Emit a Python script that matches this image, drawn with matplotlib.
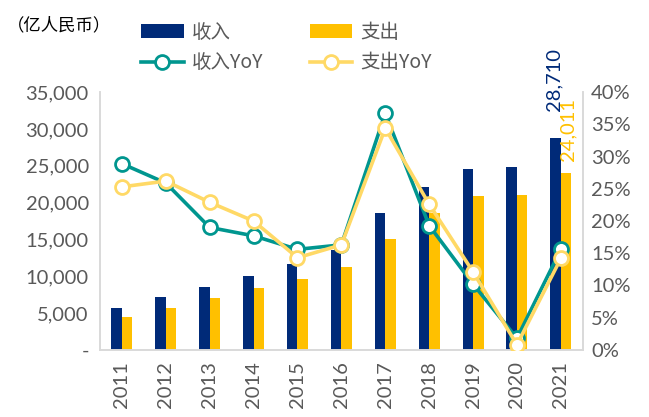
import numpy as np
import matplotlib.pyplot as plt
from matplotlib.ticker import FuncFormatter

years = ['2011', '2012', '2013', '2014', '2015', '2016', '2017', '2018', '2019', '2020', '2021']
shouru = [5660, 7150, 8510, 10040, 11670, 13570, 18550, 22160, 24520, 24880, 28710]
zhichu = [4440, 5660, 7020, 8410, 9640, 11220, 15100, 18550, 20900, 21030, 24011]
shouru_yoy = [28.9, 25.9, 19.0, 17.7, 15.6, 16.3, 36.7, 19.3, 10.2, 1.8, 15.6]
zhichu_yoy = [25.3, 26.2, 22.9, 20.0, 14.3, 16.3, 34.4, 22.6, 12.1, 0.8, 14.2]

navy = '#002A78'
gold = '#FFC000'
teal = '#00968F'
lightgold = '#FFD966'
grey = '#595959'

plt.rcParams['font.family'] = ['Lato', 'Noto Sans CJK SC', 'DejaVu Sans']
cjk = ['Noto Sans CJK SC', 'Lato', 'DejaVu Sans']

fig = plt.figure(figsize=(6.49, 4.17), dpi=100)
ax = fig.add_axes([0.154, 0.161, 0.744, 0.618])
ax2 = ax.twinx()

x = np.arange(len(years))
w = 0.24
b1 = ax.bar(x - w / 2, shouru, w, color=navy, label='收入')
b2 = ax.bar(x + w / 2, zhichu, w, color=gold, label='支出')

ax.set_ylim(0, 35000)
ax.set_xlim(-0.5, len(years) - 0.5)
ax.set_yticks(np.arange(0, 35001, 5000))
ax.yaxis.set_major_formatter(FuncFormatter(lambda v, p: '-' if v == 0 else f'{int(v):,}'))
ax.set_xticks(x)
ax.set_xticklabels(years, rotation=90)

l1, = ax2.plot(x, shouru_yoy, color=teal, lw=2.6, marker='o', ms=10,
               mfc='white', mec=teal, mew=2, label='收入YoY', zorder=3)
l2, = ax2.plot(x, zhichu_yoy, color=lightgold, lw=2.6, marker='o', ms=10,
               mfc='white', mec=lightgold, mew=2, label='支出YoY', zorder=4)
ax2.set_ylim(0, 40)
ax2.set_yticks(np.arange(0, 41, 5))
ax2.yaxis.set_major_formatter(FuncFormatter(lambda v, p: f'{int(v)}%'))

for a in (ax, ax2):
    a.tick_params(length=0, labelsize=14.5, colors=grey)
    a.spines['top'].set_visible(False)
    for s in ('left', 'right', 'bottom'):
        a.spines[s].set_color('#D9D9D9')
        a.spines[s].set_linewidth(1.2)
ax.tick_params(axis='x', pad=8)
ax.tick_params(axis='y', pad=8)
ax2.tick_params(axis='y', pad=6)

# data labels on last year
ax.annotate(f'{shouru[-1]:,}', (x[-1] - w / 2, shouru[-1]), xytext=(-1, 20),
            textcoords='offset points', rotation=90, ha='center', va='bottom',
            color=navy, fontsize=14.5)
ax.annotate(f'{zhichu[-1]:,}', (x[-1] + w / 2, zhichu[-1]), xytext=(1, 9),
            textcoords='offset points', rotation=90, ha='center', va='bottom',
            color=gold, fontsize=14.5)

fig.text(0.011, 0.94, '（亿人民币）', family=cjk, fontsize=12.5, color='black', va='center')

leg = fig.legend(handles=[b1, l1, b2, l2], ncol=2, loc='upper left',
                 bbox_to_anchor=(0.19, 0.99), frameon=False,
                 prop={'family': cjk, 'size': 14}, labelcolor=grey,
                 handlelength=2.2, handleheight=0.7, columnspacing=2.4,
                 handletextpad=0.4, labelspacing=0.5)

fig.savefig('out.png', dpi=100)
